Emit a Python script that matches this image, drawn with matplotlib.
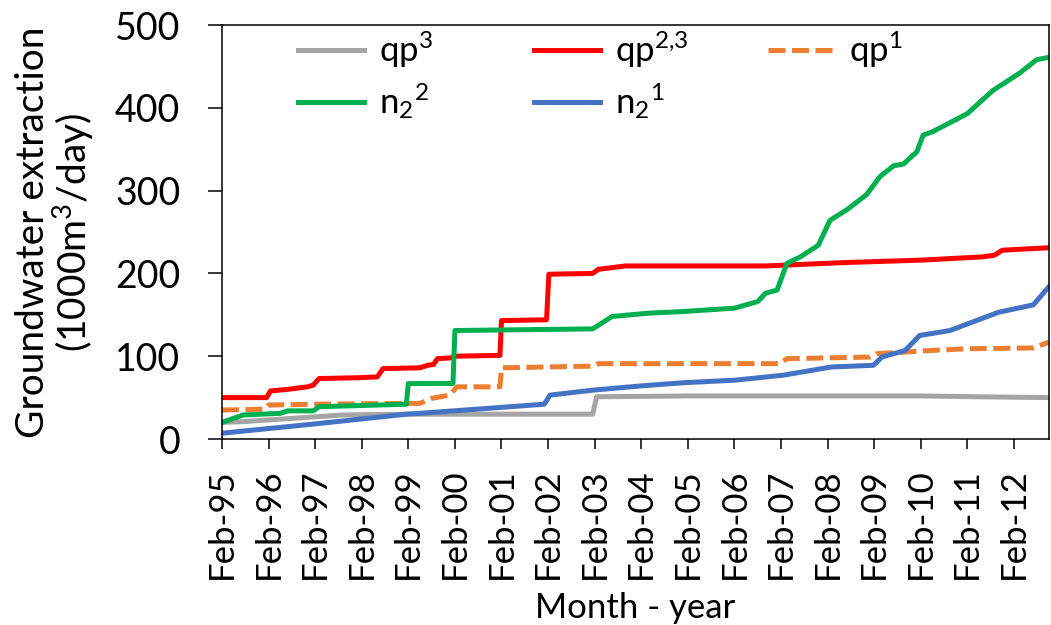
import matplotlib
matplotlib.use('Agg')
import matplotlib.pyplot as plt

plt.rcParams['font.family'] = ['Lato', 'DejaVu Sans']
plt.rcParams['mathtext.fontset'] = 'custom'
plt.rcParams['mathtext.rm'] = 'Lato'
plt.rcParams['mathtext.it'] = 'Lato:italic'

# months counted from Feb-95, values in 1000 m3/day
qp3_m = [0, 5.5, 18.4, 31, 48, 95.5, 96.5, 120, 160, 180, 195, 213]
qp3_v = [20, 21, 25, 29, 30, 30, 51, 52, 52, 52, 51, 50]

qp23_m = [0, 11.5, 12.5, 17, 22, 23.5, 25, 35, 40, 41.5, 51, 53, 54.5, 55.5, 59, 60,
          71.6, 72, 83.6, 84.2, 95.5, 97, 104, 140, 160, 180, 196, 199, 201, 213]
qp23_v = [50, 50, 58, 60, 63, 65, 73, 74, 75, 85, 86, 89, 90, 97, 98, 100,
          101, 143, 144, 199, 200, 205, 209, 209, 213, 216, 220, 222, 228, 231]

qp1_m = [0, 11, 12, 23.5, 47.6, 51, 54, 58.7, 60.5, 71.6, 72, 95.5, 97, 143.7,
         145.5, 167, 168.5, 183, 192, 209, 213]
qp1_v = [35, 36, 41, 42, 43, 43, 49, 53, 63, 63, 86, 88, 91, 91,
         97, 99, 103, 107, 109, 110, 117]

n22_m = [0, 3, 5.5, 15, 17, 23.5, 25, 47.5, 48, 59.5, 60, 95.5, 100.5, 110, 119, 132,
         138, 140, 143, 145.5, 149, 153.6, 156.6, 161, 166, 169.5, 173, 175.5, 179,
         180.6, 183, 192, 198.6, 205.5, 209.8, 213]
n22_v = [20, 25, 29, 31, 34, 34, 39, 42, 67, 67, 131, 133, 148, 152, 154, 158,
         166, 176, 180, 212, 220, 234, 264, 277, 295, 317, 330, 332, 347,
         367, 371, 393, 421, 442, 458, 461]

n21_m = [0, 23.5, 47.6, 51, 83, 84.5, 95.5, 107.6, 119, 132, 144.5, 157, 167.8,
         170, 176, 179.7, 187.5, 200, 209, 213]
n21_v = [7, 18, 30, 31, 42, 53, 59, 64, 68, 71, 77, 87, 89,
         99, 107, 125, 131, 153, 162, 184]

tick_m = list(range(0, 205, 12))
tick_lab = ['Feb-95', 'Feb-96', 'Feb-97', 'Feb-98', 'Feb-99', 'Feb-00', 'Feb-01',
            'Feb-02', 'Feb-03', 'Feb-04', 'Feb-05', 'Feb-06', 'Feb-07', 'Feb-08',
            'Feb-09', 'Feb-10', 'Feb-11', 'Feb-12']

fig = plt.figure(figsize=(10.51, 6.25), dpi=100)
ax = fig.add_axes([0.2112, 0.2976, 0.7868, 0.6624])

lw = 3.6
l1, = ax.plot(qp3_m, qp3_v, color='#A5A5A5', lw=lw, label=r'qp$^{3}$')
l2, = ax.plot(qp23_m, qp23_v, color='#FF0000', lw=lw, label=r'qp$^{2{,}3}$')
l3, = ax.plot(qp1_m, qp1_v, color='#ED7D31', lw=lw, ls=(0, (3.4, 1.3)), label=r'qp$^{1}$')
l4, = ax.plot(n22_m, n22_v, color='#00B050', lw=lw, label=r'n$_{2}{}^{2}$')
l5, = ax.plot(n21_m, n21_v, color='#4472C4', lw=lw, label=r'n$_{2}{}^{1}$')

ax.set_xlim(0, 213)
ax.set_ylim(0, 500)
ax.set_yticks([0, 100, 200, 300, 400, 500])
ax.set_xticks(tick_m)
ax.set_xticklabels(tick_lab, rotation=90)
ax.tick_params(axis='y', labelsize=27, length=10, width=1.1, direction='out', pad=20)
ax.tick_params(axis='x', labelsize=25, length=7, width=1.1, direction='out', pad=14)
for s in ax.spines.values():
    s.set_linewidth(1.1)

ax.set_ylabel('Groundwater extraction\n(1000m$^3$/day)', fontsize=28, linespacing=1.0)
ax.yaxis.set_label_coords(-0.152, 0.5)
ax.set_xlabel('Month - year', fontsize=25)
ax.xaxis.set_label_coords(0.5, -0.37)

# three one-column legends so the column positions follow the original
legend_kw = dict(loc='upper left', frameon=False, fontsize=25, handlelength=1.9,
                 handletextpad=0.45, labelspacing=0.33)
leg1 = ax.legend(handles=[l1, l4], bbox_to_anchor=(0.054, 1.063), **legend_kw)
ax.add_artist(leg1)
leg2 = ax.legend(handles=[l2, l5], bbox_to_anchor=(0.339, 1.063), **legend_kw)
ax.add_artist(leg2)
ax.legend(handles=[l3], bbox_to_anchor=(0.622, 1.063), **legend_kw)

fig.savefig('out.png', dpi=100)
